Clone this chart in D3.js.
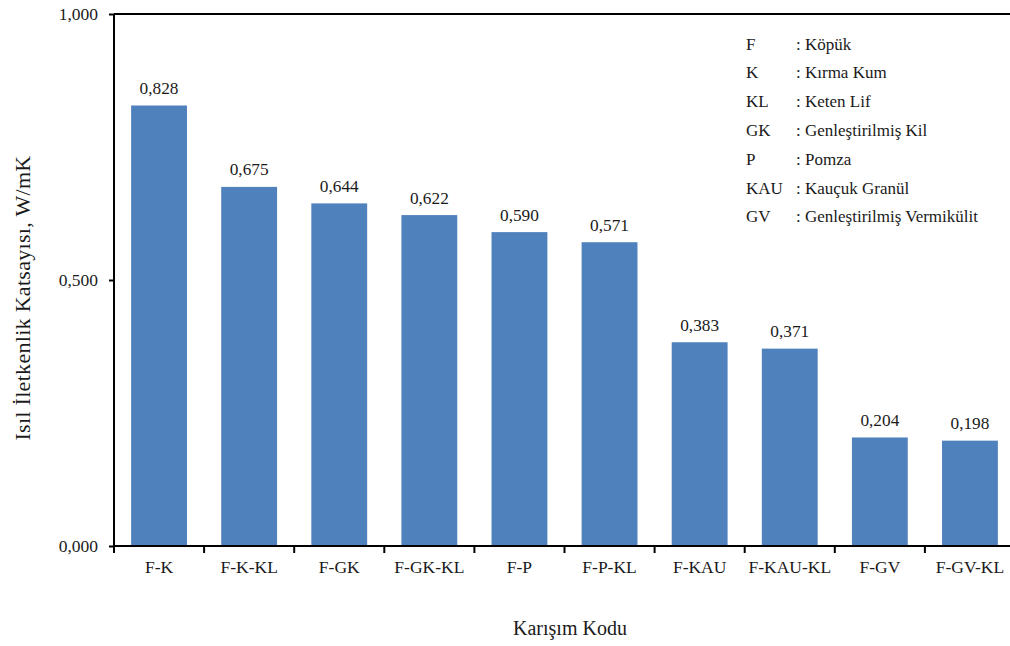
<!DOCTYPE html>
<html><head><meta charset="utf-8">
<script src="https://cdn.jsdelivr.net/npm/d3@7"></script>
<style>body{margin:0;background:#fff}</style>
</head><body><svg id="c" width="1010" height="646"></svg>
<script>
const categories = ["F-K","F-K-KL","F-GK","F-GK-KL","F-P","F-P-KL","F-KAU","F-KAU-KL","F-GV","F-GV-KL"];
const values = [0.828,0.675,0.644,0.622,0.590,0.571,0.383,0.371,0.204,0.198];
const yTicks = [0,0.5,1.0];
const legendCodes = ["F","K","KL","GK","P","KAU","GV"];
const legendNames = [": Köpük",": Kırma Kum",": Keten Lif",": Genleştirilmiş Kil",": Pomza",": Kauçuk Granül",": Genleştirilmiş Vermikülit"];

const FONT = '"Liberation Serif"';
const TXT = "#1a1a1a";
const svg = d3.select("#c");
const x = d3.scaleBand().domain(categories).range([114, 1015]).paddingInner(0.38).paddingOuter(0.19);
const y = d3.scaleLinear().domain([0,1]).range([546,14]);
const fmt = v => d3.format(".3f")(v).replace(".", ",");

svg.selectAll("rect.bar").data(values).join("rect").attr("class","bar")
  .attr("x",(d,i)=>x(categories[i])).attr("width",x.bandwidth())
  .attr("y",d=>y(d)).attr("height",d=>y(0)-y(d)).attr("fill","#4F81BD");

svg.selectAll("text.val").data(values).join("text").attr("class","val")
  .attr("x",(d,i)=>x(categories[i])+x.bandwidth()/2).attr("y",d=>y(d)-11.5)
  .attr("text-anchor","middle").style("font-family",FONT).style("font-size","17.3px").style("fill",TXT).text(fmt);

// y axis
const ya = svg.append("g").attr("transform","translate(114,0)")
  .call(d3.axisLeft(y).tickValues(yTicks).tickSize(5).tickPadding(11).tickFormat(fmt));
ya.attr("font-family",null);
ya.select(".domain").attr("stroke","#000").attr("stroke-width",2).attr("d","M0,546V14");
ya.selectAll(".tick line").attr("stroke","#000").attr("stroke-width",2);
ya.selectAll(".tick text").style("font-family",FONT).style("font-size","17.5px").style("fill",TXT);

// top line
svg.append("line").attr("x1",114).attr("x2",1010).attr("y1",y(1)).attr("y2",y(1)).attr("stroke","#000").attr("stroke-width",2);

// x axis
const xa = svg.append("g").attr("transform","translate(0,546)")
  .call(d3.axisBottom(x).tickSize(0).tickPadding(15));
xa.attr("font-family",null);
xa.select(".domain").attr("stroke","#000").attr("stroke-width",2).attr("d","M114,0H1010");
xa.selectAll(".tick text").style("font-family",FONT).style("font-size","17.5px").style("fill",TXT);
const step = x.step();
const bounds = d3.range(categories.length).map(i => x(categories[i]) - step*x.paddingInner()/2);
svg.append("g").selectAll("line").data(bounds).join("line")
  .attr("x1",d=>d).attr("x2",d=>d).attr("y1",546).attr("y2",553).attr("stroke","#000").attr("stroke-width",2);

// axis titles
svg.append("text").attr("transform","translate(30,298) rotate(-90)").attr("text-anchor","middle")
  .style("font-family",FONT).style("font-size","22px").style("letter-spacing","0.3px").style("fill",TXT)
  .text("Isıl İletkenlik Katsayısı, W/mK");
svg.append("text").attr("x",570).attr("y",635).attr("text-anchor","middle")
  .style("font-family",FONT).style("font-size","20px").style("fill",TXT).text("Karışım Kodu");

// legend
const lg = svg.append("g");
legendCodes.forEach((c,i)=>{
  const yy = 49.5 + i*28.8;
  lg.append("text").attr("x",746).attr("y",yy).style("font-family",FONT).style("font-size","17px").style("fill",TXT).text(c);
  lg.append("text").attr("x",796).attr("y",yy).style("font-family",FONT).style("font-size","17px").style("fill",TXT).text(legendNames[i]);
});
</script></body></html>
